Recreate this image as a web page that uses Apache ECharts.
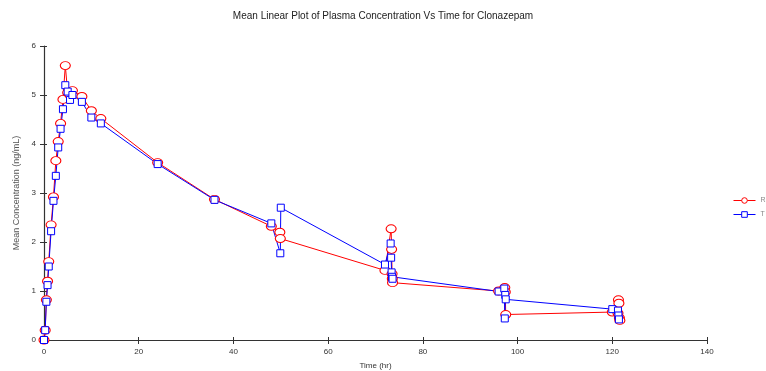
<!DOCTYPE html>
<html>
<head>
    <meta charset="utf-8">
    <title>Clonazepam</title>
    <script type="text/javascript" src="https://cdn.jsdelivr.net/npm/echarts@6/dist/echarts.min.js"></script>
</head>
<body style="margin:0">
<div id="main" style="height:371px; width:766px;"></div>
<script type="text/javascript">
// sampling times (hr) and mean concentrations (ng/mL)
var timeR = [0, 0.25, 0.5, 0.75, 1, 1.5, 2, 2.5, 3, 3.5, 4, 4.5, 5, 5.5, 6, 8, 10, 12, 24, 36,
    48, 49.8, 49.9, 72, 73.3, 73.4, 73.5, 73.55, 73.6, 96, 97.3, 97.4, 97.5,
    120, 121.2, 121.3, 121.4, 121.5, 121.6];
var concR = [0, 0.2, 0.82, 1.2, 1.6, 2.35, 2.92, 3.66, 4.05, 4.42, 4.91, 5.6, 5.05, 5.0, 5.09, 4.97, 4.68, 4.52, 3.62, 2.87,
    2.32, 2.2, 2.07, 1.42, 2.27, 1.85, 1.35, 1.25, 1.17, 1.0, 1.07, 0.98, 0.52,
    0.57, 0.55, 0.82, 0.75, 0.45, 0.4];
var timeT = [0, 0.25, 0.5, 0.75, 1, 1.5, 2, 2.5, 3, 3.5, 4, 4.5, 5, 5.5, 6, 8, 10, 12, 24, 36,
    48, 49.9, 50, 72, 73.2, 73.3, 73.4, 73.5, 73.6, 96, 97.2, 97.3, 97.4, 97.5,
    120, 121.2, 121.3, 121.4];
var concT = [0, 0.2, 0.78, 1.12, 1.5, 2.22, 2.84, 3.35, 3.93, 4.31, 4.71, 5.2, 5.07, 4.9, 5.0, 4.86, 4.54, 4.42, 3.59, 2.86,
    2.38, 1.77, 2.7, 1.54, 1.97, 1.68, 1.38, 1.29, 1.25, 0.99, 1.05, 0.44, 0.92, 0.83,
    0.63, 0.6, 0.5, 0.42];
var xTicks = [0, 20, 40, 60, 80, 100, 120, 140];
var yTicks = [0, 1, 2, 3, 4, 5, 6];

function zip(t, c) {
    return t.map(function (v, i) { return [v, c[i]]; });
}

var myChart = echarts.init(document.getElementById('main'));
var labelStyle = {fontFamily: 'Liberation Sans', fontSize: 8, color: '#333'};
var option = {
    animation: false,
    title: {
        text: 'Mean Linear Plot of Plasma Concentration Vs Time for Clonazepam',
        left: 'center',
        top: 6,
        textStyle: {fontFamily: 'Liberation Sans', fontSize: 10, fontWeight: 'normal', color: '#222'}
    },
    legend: {
        orient: 'vertical',
        left: 733,
        top: 197,
        padding: 0,
        itemWidth: 22,
        itemHeight: 7,
        itemGap: 7,
        lineStyle: {width: 1},
        itemStyle: {borderWidth: 1},
        textStyle: {fontFamily: 'Liberation Sans', fontSize: 7, color: '#888'},
        data: ['R', 'T']
    },
    grid: {left: 44, right: 59, top: 46, bottom: 31, outerBoundsMode: 'none'},
    xAxis: [
        {
            type: 'value', min: 0, max: xTicks[xTicks.length - 1], interval: 20,
            name: 'Time (hr)', nameLocation: 'middle', nameGap: 22,
            nameTextStyle: {fontFamily: 'Liberation Sans', fontSize: 8, color: '#333'},
            axisLine: {lineStyle: {color: '#333', width: 1.2}},
            axisTick: {length: 4, lineStyle: {color: '#333'}},
            axisLabel: labelStyle,
            splitLine: {show: false}
        },
        {
            type: 'value', min: 0, max: 140, interval: 20, position: 'bottom',
            axisLine: {show: false},
            axisTick: {inside: true, length: 3, lineStyle: {color: '#333'}},
            axisLabel: {show: false},
            splitLine: {show: false}
        }
    ],
    yAxis: [
        {
            type: 'value', min: 0, max: yTicks[yTicks.length - 1], interval: 1,
            name: 'Mean Concentration (ng/mL)', nameLocation: 'middle', nameGap: 19,
            nameTextStyle: {fontFamily: 'Liberation Sans', fontSize: 9, color: '#555'},
            axisLine: {show: true, lineStyle: {color: '#333', width: 1.2}},
            axisTick: {show: true, length: 4, lineStyle: {color: '#333'}},
            axisLabel: labelStyle,
            splitLine: {show: false}
        },
        {
            type: 'value', min: 0, max: 6, interval: 1, position: 'left',
            axisLine: {show: false},
            axisTick: {show: true, inside: true, length: 3, lineStyle: {color: '#333'}},
            axisLabel: {show: false},
            splitLine: {show: false}
        }
    ],
    series: [
        {
            name: 'R', type: 'line', data: zip(timeR, concR),
            symbol: 'circle', symbolSize: [10, 8],
            itemStyle: {color: '#fff', borderColor: '#ff0000', borderWidth: 1},
            lineStyle: {color: '#ff0000', width: 1}
        },
        {
            name: 'T', type: 'line', data: zip(timeT, concT),
            symbol: 'rect', symbolSize: 7,
            itemStyle: {color: '#fff', borderColor: '#0000ff', borderWidth: 1},
            lineStyle: {color: '#0000ff', width: 1}
        }
    ]
};
myChart.setOption(option);
</script>
</body>
</html>
